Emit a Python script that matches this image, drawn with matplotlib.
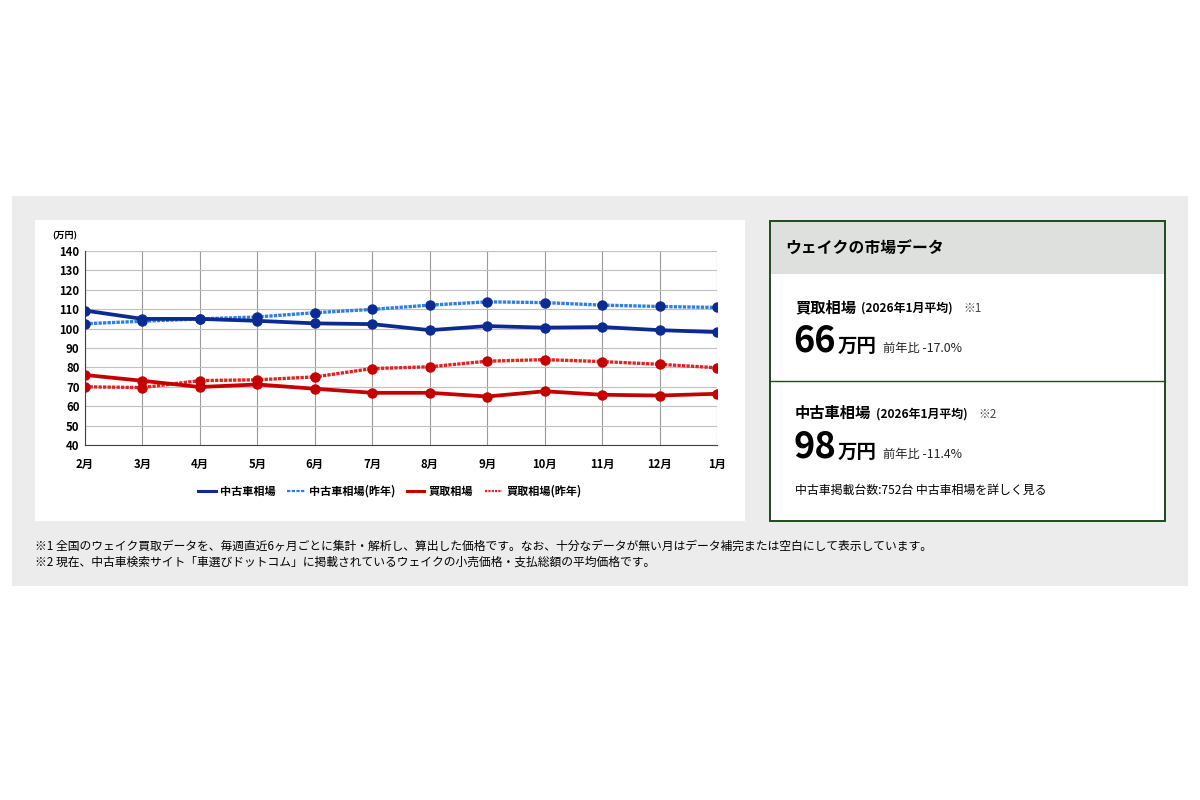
import numpy as np
import matplotlib
matplotlib.use('Agg')
import matplotlib.pyplot as plt
from matplotlib.patches import Rectangle
from matplotlib.lines import Line2D

plt.rcParams['font.family'] = ['Noto Sans CJK JP', 'DejaVu Sans']

months = ['2月', '3月', '4月', '5月', '6月', '7月', '8月', '9月', '10月', '11月', '12月', '1月']
used_price = [109.3, 105.0, 105.0, 104.0, 102.7, 102.3, 99.2, 101.3, 100.5, 100.8, 99.2, 98.2]
used_price_prev = [102.5, 103.8, 105.0, 106.0, 108.2, 109.9, 112.1, 113.8, 113.4, 112.1, 111.4, 110.9]
buy_price = [76.1, 73.1, 69.9, 71.2, 69.0, 66.9, 66.9, 65.0, 67.7, 65.9, 65.5, 66.4]
buy_price_prev = [70.0, 69.6, 73.2, 73.6, 75.1, 79.4, 80.3, 83.2, 84.0, 83.0, 81.6, 79.8]
series_names = ['中古車相場', '中古車相場(昨年)', '買取相場', '買取相場(昨年)']
yticks = np.arange(40, 141, 10)

W, H = 1200, 800
fig = plt.figure(figsize=(12, 8), dpi=100)
fig.patch.set_facecolor('white')

def fx(x):
    return x / W

def fy(y):
    return 1 - y / H

def rect(x0, y0, x1, y1, **kw):
    fig.patches.append(Rectangle((fx(x0), fy(y1)), fx(x1 - x0), (y1 - y0) / H,
                                 transform=fig.transFigure, figure=fig, **kw))

# backgrounds
rect(12, 196, 1188, 586, facecolor='#ececec', edgecolor='none', zorder=0)
rect(35, 220, 745, 521, facecolor='white', edgecolor='none', zorder=0)
rect(770, 221, 1165, 521, facecolor='white', edgecolor='none', zorder=0)
rect(770, 221, 1165, 274, facecolor='#dde0dc', edgecolor='none', zorder=1)
rect(770, 221, 1165, 521, facecolor='none', edgecolor='#1f4a1c', linewidth=1.4, zorder=2)
fig.lines.append(Line2D([fx(770), fx(1165)], [fy(381), fy(381)], transform=fig.transFigure,
                        color='#1f4a1c', linewidth=1.0))

# chart
ax = fig.add_axes([fx(85), fy(445), fx(717 - 85), (445 - 251) / H])
ax.set_zorder(5)
ax.set_facecolor('white')
x = np.arange(len(months))
navy = '#0b2a92'
dots = (0, (1, 0.35))
ax.plot(x, used_price, color=navy, linewidth=2.7, marker='o', markersize=6.5, zorder=4)
ax.plot(x, used_price_prev, color='#2f7fe3', linewidth=2.4, linestyle=dots,
        marker='o', markersize=6.5, markerfacecolor=navy, markeredgecolor=navy, zorder=3)
ax.plot(x, buy_price, color='#c40000', linewidth=2.7, marker='o', markersize=6.5, zorder=4)
ax.plot(x, buy_price_prev, color='#e02424', linewidth=2.4, linestyle=dots,
        marker='o', markersize=6.5, markerfacecolor='#c40000', markeredgecolor='#c40000', zorder=3)

ax.set_xlim(0, len(months) - 1)
ax.set_ylim(40, 140)
ax.set_xticks(x)
ax.set_xticklabels(months, fontsize=8.2, fontweight='bold')
ax.set_yticks(yticks)
ax.set_yticklabels([str(v) for v in yticks], fontsize=8.2, fontweight='bold')
ax.tick_params(axis='x', length=0, pad=9)
ax.tick_params(axis='y', length=0, pad=4)
ax.grid(True, axis='x', color='#9a9a9a', linewidth=0.8)
ax.grid(True, axis='y', color='#c0c0c0', linewidth=0.8)
for s in ['top', 'right']:
    ax.spines[s].set_visible(False)
ax.spines['left'].set_color('#404040')
ax.spines['bottom'].set_color('#404040')

fig.text(fx(52), fy(236), '(万円)', fontsize=6.5, fontweight='bold', va='center', ha='left')

handles = [Line2D([], [], color=navy, linewidth=2.2),
           Line2D([], [], color='#2f7fe3', linewidth=1.6, linestyle=(0, (1.5, 0.6))),
           Line2D([], [], color='#c40000', linewidth=2.2),
           Line2D([], [], color='#e02424', linewidth=1.6, linestyle=(0, (1, 0.5)))]
leg = fig.legend(handles, series_names, loc='center', bbox_to_anchor=(fx(390), fy(491)),
                 ncol=4, frameon=False, handlelength=1.6, handletextpad=0.4, columnspacing=1.0,
                 prop={'size': 8, 'weight': 'bold'})

# right card
fig.text(fx(785), fy(253), 'ウェイクの市場データ', fontsize=11.4, fontweight='bold', va='baseline')

fig.text(fx(795), fy(312), '買取相場', fontsize=11, fontweight='bold', va='baseline')
fig.text(fx(861), fy(312), '(2026年1月平均)', fontsize=8.6, fontweight='bold', va='baseline')
fig.text(fx(963), fy(312), '※1', fontsize=8.5, color='#444444', va='baseline')
fig.text(fx(793), fy(352), '66', fontsize=26, fontweight='bold', va='baseline')
fig.text(fx(838), fy(352), '万円', fontsize=14, fontweight='bold', va='baseline')
fig.text(fx(883), fy(352), '前年比 -17.0%', fontsize=8.8, color='#222222', va='baseline')

fig.text(fx(795), fy(418), '中古車相場', fontsize=11, fontweight='bold', va='baseline')
fig.text(fx(876), fy(418), '(2026年1月平均)', fontsize=8.6, fontweight='bold', va='baseline')
fig.text(fx(978), fy(418), '※2', fontsize=8.5, color='#444444', va='baseline')
fig.text(fx(793), fy(458), '98', fontsize=26, fontweight='bold', va='baseline')
fig.text(fx(838), fy(458), '万円', fontsize=14, fontweight='bold', va='baseline')
fig.text(fx(883), fy(458), '前年比 -11.4%', fontsize=8.8, color='#222222', va='baseline')

fig.text(fx(795), fy(494), '中古車掲載台数:752台 中古車相場を詳しく見る', fontsize=8.6, va='baseline')

# footnotes
fig.text(fx(35), fy(550), '※1 全国のウェイク買取データを、毎週直近6ヶ月ごとに集計・解析し、算出した価格です。なお、十分なデータが無い月はデータ補完または空白にして表示しています。',
         fontsize=8.5, va='baseline')
fig.text(fx(35), fy(566), '※2 現在、中古車検索サイト「車選びドットコム」に掲載されているウェイクの小売価格・支払総額の平均価格です。',
         fontsize=8.5, va='baseline')

fig.savefig('out.png', dpi=100, facecolor='white')
